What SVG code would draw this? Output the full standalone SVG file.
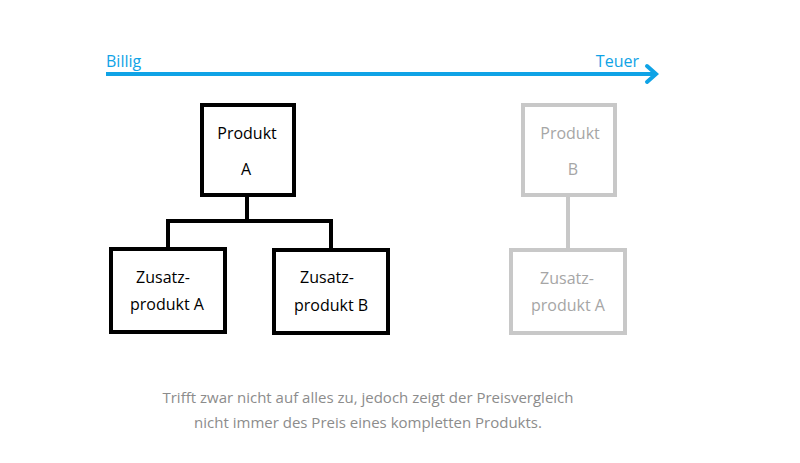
<svg xmlns="http://www.w3.org/2000/svg" width="800" height="463" viewBox="0 0 800 463">
<style>
text{font-family:"Open Sans","Liberation Sans",sans-serif;font-size:16px;text-anchor:middle}
.b{fill:#fff;stroke:#000;stroke-width:4}
.g{fill:#fff;stroke:#c8c8c8;stroke-width:4}
.bt{fill:#000}.gt{fill:#a6a6a6}
</style>
<rect width="800" height="463" fill="#fff"/>
<g id="axis">
<line x1="106" y1="74" x2="655" y2="74" stroke="#0fa3e6" stroke-width="4"/>
<polyline points="647,66 656,74 647,82" fill="none" stroke="#0fa3e6" stroke-width="4" stroke-linecap="round"/>
<text x="106" y="67" style="text-anchor:start;fill:#0fa3e6">Billig</text>
<text x="639" y="67" style="text-anchor:end;fill:#0fa3e6">Teuer</text>
</g>
<g id="connectors" fill="none">
<polyline points="247,195 247,221 168,221 168,248" stroke="#000" stroke-width="4"/>
<polyline points="247,221 331,221 331,248" stroke="#000" stroke-width="4"/>
<line x1="568" y1="196" x2="568" y2="249" stroke="#c8c8c8" stroke-width="4"/>
</g>
<g id="produktA"><rect class="b" x="202" y="105" width="92" height="90"/><text class="bt" x="247" y="139">Produkt</text><text class="bt" x="246" y="175">A</text></g>
<g id="zusatzA"><rect class="b" x="111" y="249" width="114" height="83"/><text class="bt" x="163" y="283">Zusatz-</text><text class="bt" x="167" y="310">produkt A</text></g>
<g id="zusatzB"><rect class="b" x="274" y="250" width="114" height="83"/><text class="bt" x="327" y="283">Zusatz-</text><text class="bt" x="331" y="311">produkt B</text></g>
<g id="produktB"><rect class="g" x="523" y="105" width="92" height="90"/><text class="gt" x="570" y="139">Produkt</text><text class="gt" x="573" y="175">B</text></g>
<g id="zusatzA2"><rect class="g" x="511" y="250" width="114" height="83"/><text class="gt" x="567" y="284">Zusatz-</text><text class="gt" x="568" y="311">produkt A</text></g>
<g id="caption">
<text x="368" y="403" style="fill:#8c8c8c;font-size:15px">Trifft zwar nicht auf alles zu, jedoch zeigt der Preisvergleich</text>
<text x="368" y="428" style="fill:#8c8c8c;font-size:15px">nicht immer des Preis eines kompletten Produkts.</text>
</g>
</svg>
